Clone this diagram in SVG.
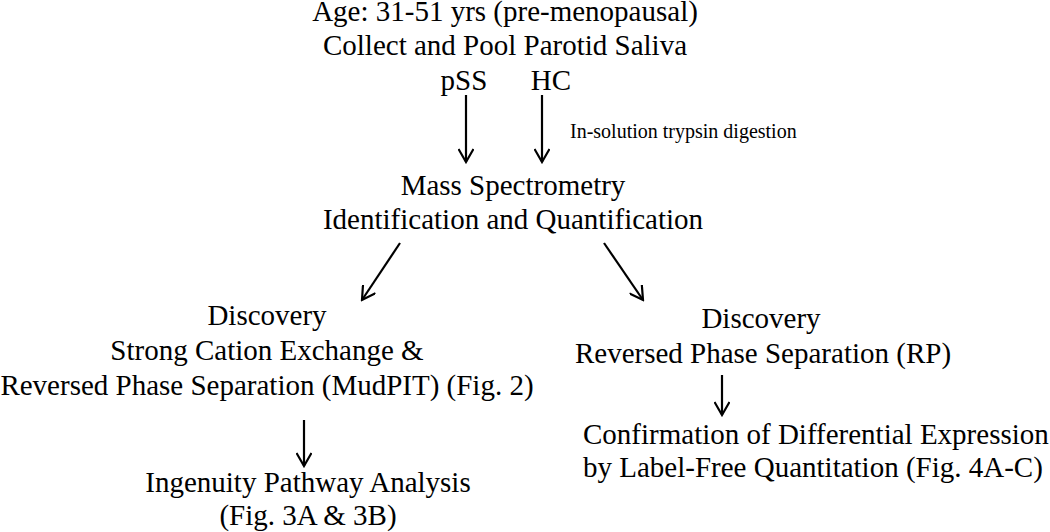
<svg xmlns="http://www.w3.org/2000/svg" width="1050" height="532" viewBox="0 0 1050 532">
  <style>
    .t { font-family: "Liberation Serif", "Times New Roman", serif; font-size: 29px; fill: #000; }
    .s { font-family: "Liberation Serif", "Times New Roman", serif; font-size: 20px; fill: #000; }
    .c { text-anchor: middle; }
    .ln { stroke: #000; stroke-width: 2.2; fill: none; }
  </style>
  <defs>
    <marker id="ah" viewBox="0 0 16 16" refX="14" refY="8" markerWidth="16" markerHeight="16" orient="auto" markerUnits="userSpaceOnUse">
      <path d="M1,0.5 L14,8 L1,15.5" fill="none" stroke="#000" stroke-width="2.2"/>
    </marker>
  </defs>
  <rect width="1050" height="532" fill="#fff"/>

  <g id="node-top">
    <text class="t c" x="505" y="21">Age: 31-51 yrs (pre-menopausal)</text>
    <text class="t c" x="505" y="55">Collect and Pool Parotid Saliva</text>
  </g>
  <g id="node-pss">
    <text class="t c" x="464" y="90">pSS</text>
  </g>
  <g id="node-hc">
    <text class="t c" x="551" y="90">HC</text>
  </g>
  <g id="node-ms">
    <text class="t c" x="513" y="195">Mass Spectrometry</text>
    <text class="t c" x="513" y="229">Identification and Quantification</text>
  </g>
  <g id="node-mudpit">
    <text class="t c" x="267" y="325">Discovery</text>
    <text class="t c" x="267" y="360">Strong Cation Exchange &amp;</text>
    <text class="t c" x="267" y="395">Reversed Phase Separation (MudPIT) (Fig. 2)</text>
  </g>
  <g id="node-ipa">
    <text class="t c" x="308" y="492">Ingenuity Pathway Analysis</text>
    <text class="t c" x="308" y="525">(Fig. 3A &amp; 3B)</text>
  </g>
  <g id="node-rp">
    <text class="t c" x="761" y="328">Discovery</text>
    <text class="t c" x="763" y="363">Reversed Phase Separation (RP)</text>
  </g>
  <g id="node-confirm">
    <text class="t" x="583" y="444">Confirmation of Differential Expression</text>
    <text class="t" x="583" y="477">by Label-Free Quantitation (Fig. 4A-C)</text>
  </g>

  <g id="connectors">
    <line class="ln" x1="466" y1="95" x2="466" y2="162" marker-end="url(#ah)"/>
    <line class="ln" x1="542" y1="95" x2="542" y2="162" marker-end="url(#ah)"/>
    <text class="s" x="570" y="138">In-solution trypsin digestion</text>
    <line class="ln" x1="400" y1="243" x2="362" y2="300" marker-end="url(#ah)"/>
    <line class="ln" x1="604" y1="243" x2="643" y2="300" marker-end="url(#ah)"/>
    <line class="ln" x1="304" y1="420" x2="304" y2="466" marker-end="url(#ah)"/>
    <line class="ln" x1="722" y1="375" x2="722" y2="415" marker-end="url(#ah)"/>
  </g>
</svg>
